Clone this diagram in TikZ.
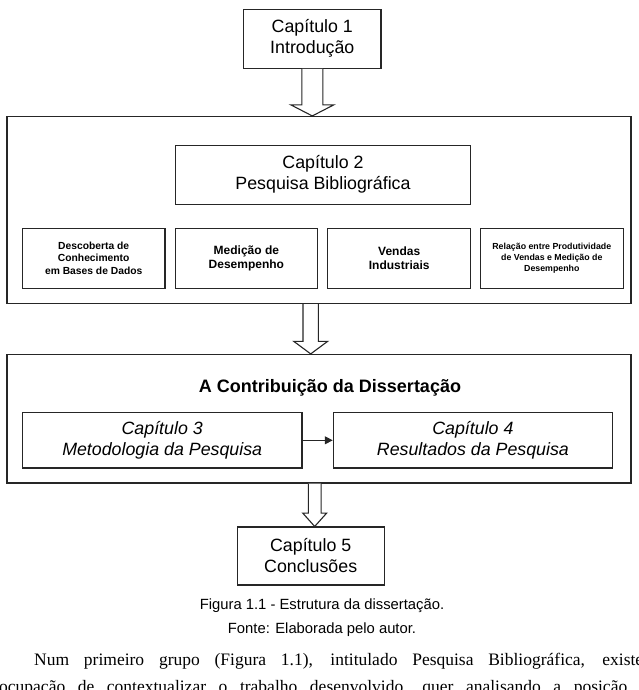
\documentclass[tikz,border=0pt]{standalone}
\usepackage{fontspec}
\setmainfont{Liberation Sans}
\newfontfamily\parafont{Liberation Serif}
\usepackage{tikz}
\usetikzlibrary{calc,arrows.meta,positioning}

\tikzset{
	box/.style={draw=black!85,line width=1.1pt,inner sep=0pt,align=center},
	chapbox/.style={box,font=\fontsize{17.8}{21}\selectfont},
	topicbox/.style={box,minimum width=142.6pt,minimum height=60pt,font=\bfseries\fontsize{12}{14.3}\selectfont},
	blockline/.style={draw=black!85,line width=1.1pt,fill=white,line join=miter},
	captext/.style={font=\fontsize{14.8}{17}\selectfont,inner sep=0pt}
}

% block arrow: from, to, half shaft, half head, head length
\newcommand{\blockarrow}[5]{%
	\draw[blockline] let \p1=#1, \p2=#2 in
		(\x1-#3,\y1) -- (\x1-#3,\y2+#5) -- (\x1-#4,\y2+#5) -- (\x1,\y2)
		-- (\x1+#4,\y2+#5) -- (\x1+#3,\y2+#5) -- (\x1+#3,\y1);}

\begin{document}
\begin{tikzpicture}[x=1pt,y=-1pt]
		\useasboundingbox (0,0) rectangle (639,690);
		\clip (0,0) rectangle (639,690);
		
		% chapter 1
		\node[chapbox,minimum width=137.4pt,minimum height=59pt] (cap1) at (312.3,38.8) {Capítulo 1\\Introdução};
		
		% chapter 2
		\node[box,minimum width=624pt,minimum height=187pt] (bib) at (319,210) {};
		\node[chapbox,minimum width=295.5pt,minimum height=59.3pt] (cap2) at (323,174.7) {Capítulo 2\\Pesquisa Bibliográfica};
		\node[topicbox,font=\bfseries\fontsize{10.3}{12.2}\selectfont] (kdd) at (93.7,258.3) {Descoberta de\\Conhecimento\\em Bases de Dados};
		\node[topicbox] (med) at (246.4,258.3) {Medição de\\Desempenho};
		\node[topicbox] (vend) at (399.2,258.3) {Vendas\\Industriais};
		\node[topicbox,font=\bfseries\fontsize{8.8}{10.9}\selectfont] (rel) at (551.8,258.3) {Relação entre Produtividade\\de Vendas e Medição de\\Desempenho};
		
		% contribution
		\node[box,minimum width=624pt,minimum height=128.5pt] (contrib) at (319,418.7) {};
		\node[font=\bfseries\fontsize{18}{21}\selectfont,inner sep=0pt] (ctitle) at (330,388.3) {A Contribuição da Dissertação};
		\node[chapbox,font=\itshape\fontsize{17.8}{21}\selectfont,minimum width=279.6pt,minimum height=55.3pt] (cap3) at (162.2,440.3) {Capítulo 3\\Metodologia da Pesquisa};
		\node[chapbox,font=\itshape\fontsize{17.8}{21}\selectfont,minimum width=279.2pt,minimum height=55.3pt] (cap4) at (472.9,440.3) {Capítulo 4\\Resultados da Pesquisa};
		\draw[black!85,line width=1.1pt,-{Triangle[length=8pt,width=8pt]}] (cap3.east) -- (cap4.west);
		
		% chapter 5
		\node[chapbox,minimum width=147pt,minimum height=58pt] (cap5) at (310.7,556) {Capítulo 5\\Conclusões};
		\coordinate (a3) at ([xshift=4pt]cap5.north);
		
		\blockarrow{(cap1.south)}{(cap1.south |- bib.north)}{10.5pt}{21.3pt}{11pt}
		\blockarrow{(cap5.north |- bib.south)}{(cap5.north |- contrib.north)}{7.7pt}{17pt}{12.6pt}
		\blockarrow{(a3 |- contrib.south)}{(a3)}{6.4pt}{12pt}{13.4pt}
		
		% caption and text below
		\node[captext] (fig) at (322,606) {Figura 1.1 - Estrutura da dissertação.};
		\node[captext] (src) at (322,630) {Fonte: Elaborada pelo autor.};
		\node[anchor=base west,inner sep=0pt,font=\parafont\fontsize{17.5}{20}\selectfont] (par1) at (34,665)
			{\makebox[609pt][s]{Num primeiro grupo (Figura 1.1), intitulado Pesquisa Bibliográfica, existe}};
		\node[anchor=base west,inner sep=0pt,font=\parafont\fontsize{17.5}{20}\selectfont] (par2) at (-1,692.5)
			{\makebox[628pt][s]{ocupação de contextualizar o trabalho desenvolvido, quer analisando a posição}};
\end{tikzpicture}
\end{document}
